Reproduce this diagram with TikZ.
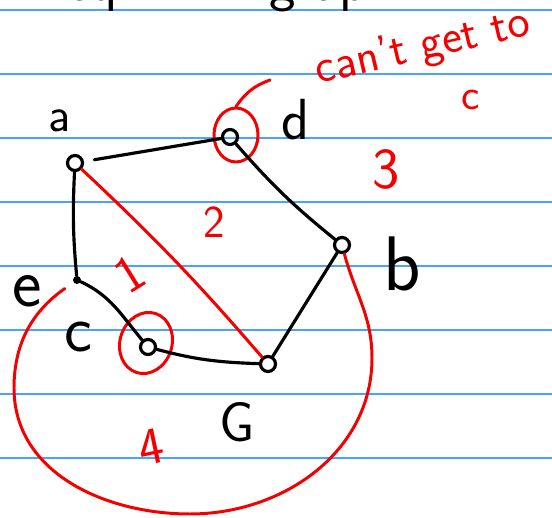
\documentclass[tikz,border=0pt]{standalone}
\usepackage{tikz}
\usetikzlibrary{positioning,shapes.geometric}
\definecolor{ruleblue}{RGB}{74,163,245}
\definecolor{inkred}{RGB}{245,0,0}
\newcommand{\hand}[1]{\sffamily\fontsize{#1}{#1}\selectfont}

\begin{document}
\begin{tikzpicture}[
  x=0.02cm, y=0.02cm,
  vertex/.style={draw, circle, line width=1.8pt, inner sep=0pt,
    minimum size=0.3cm},
  blob/.style={circle, fill, inner sep=0pt, minimum size=0.16cm},
  ring/.style={draw=inkred, ellipse, line width=1.7pt, inner sep=0pt},
  edge/.style={line width=1.8pt, line cap=round},
  redline/.style={edge, line width=1.7pt, draw=inkred},
  lbl/.style={inner sep=0pt, on grid},
  rednum/.style={inner sep=0pt, text=inkred}
]

\useasboundingbox[fill=white] (0,0) rectangle (552,518);
\foreach \y in {60,124,...,508}
  \draw[ruleblue, line width=0.9pt] (0,\y) -- (552,\y);

\node[inner sep=0pt, anchor=base] (top1) at (92,517) {\hand{32}eq};
\node[inner sep=0pt, anchor=base] (top2) at (332,517) {\hand{32}graph};

\node[vertex] (a) at (75,355) {};
\node[vertex] (d) at (230,381) {};
\node[vertex] (b) at (342,273) {};
\node[blob] (e) at (77,238) {};
\node[vertex] (c) at (148,171) {};
\node[vertex] (g) at (268,154) {};

\node[lbl, above left=0.84cm and 0.3cm of a] (la) {\hand{28}a};
\node[lbl, above right=0.34cm and 1.32cm of d] (ld) {\hand{33}d};
\node[lbl, below right=0.38cm and 1.2cm of b] (lb) {\hand{44}b};
\node[lbl, below left=0.22cm and 1.0cm of e] (le) {\hand{40}e};
\node[lbl, above left=0.2cm and 1.4cm of c] (lc) {\hand{38}c};
\node[lbl, below left=1.16cm and 0.62cm of g] (lg) {\hand{32}G};

\node[ring, minimum width=0.88cm, minimum height=1.08cm] (dring)
  at (236,383) {};
\node[ring, minimum width=1.04cm, minimum height=1.24cm, rotate=-18]
  (cring) at (146,175) {};

\node[rednum, rotate=32] (r1) at (130,244) {\hand{30}1};
\node[rednum] (r2) at (214,296) {\hand{26}2};
\node[rednum] (r3) at (386,349) {\hand{33}3};
\node[rednum, rotate=12] (r4) at (151,71) {\hand{30}4};
\node[rednum, rotate=13] (note) at (423,470) {\hand{27}can't get to};
\node[rednum] (notec) at (471,418) {\hand{25}c};

\coordinate (tail) at (270,438);
\coordinate (lft) at (14,130);
\coordinate (bot) at (190,4);
\coordinate (rgt) at (372,160);

\draw[edge, shorten <=6pt] (a) -- (d);
\draw[edge] (a) to[bend right=4] (e);
\draw[edge] (e) to[out=-25, in=130] (c);
\draw[edge] (c) to[out=-15, in=178] (g);
\draw[edge] (g) -- (b);
\draw[edge] (d) to[bend right=5] (b);

\draw[redline] (a) to[bend left=3] (g);
\draw[redline] (dring.north) to[out=55, in=200] (tail);
\draw[redline, shorten <=6pt] (e) to[out=215, in=90] (lft)
  to[out=-90, in=180] (bot) to[out=0, in=-90] (rgt)
  to[out=90, in=-75] (b);

\end{tikzpicture}
\end{document}
